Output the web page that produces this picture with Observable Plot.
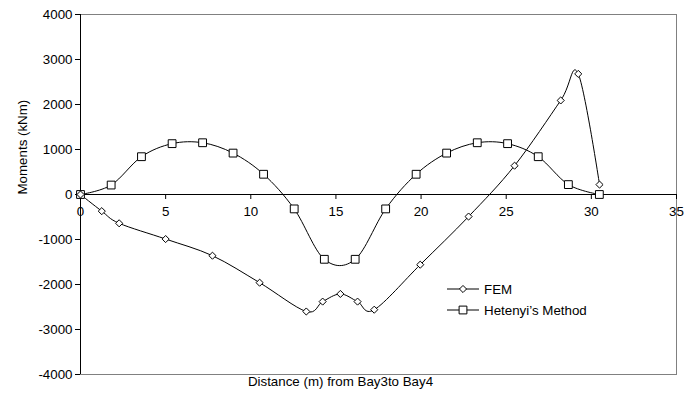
<!DOCTYPE html>
<html>
<head>
<meta charset="utf-8">
<script src="https://cdn.jsdelivr.net/npm/d3@7"></script>
<script src="https://cdn.jsdelivr.net/npm/@observablehq/plot@0.6"></script>
<style>
  html, body { margin: 0; padding: 0; background: #fff; }
  #chart { width: 692px; height: 394px; }
</style>
</head>
<body>
<div id="chart"></div>
<script>
// Bending moment along the beam, Bay 3 to Bay 4
const femDistance = [0, 1.25, 2.27, 5.0, 7.75, 10.52, 13.26, 14.22, 15.26, 16.27, 17.25, 19.95, 22.79, 25.49, 28.2, 29.23, 30.48];
const femMoment   = [0, -370, -640, -990, -1360, -1960, -2600, -2380, -2210, -2380, -2560, -1560, -490, 640, 2090, 2680, 220];

const hetDistance = [0, 1.8, 3.58, 5.38, 7.17, 8.96, 10.75, 12.55, 14.32, 16.13, 17.92, 19.71, 21.5, 23.3, 25.08, 26.88, 28.65, 30.47];
const hetMoment   = [0, 210, 840, 1130, 1150, 920, 450, -320, -1440, -1440, -320, 450, 920, 1150, 1130, 840, 220, 0];

const xTicks = [0, 5, 10, 15, 20, 25, 30, 35];
const yTicks = [-4000, -3000, -2000, -1000, 0, 1000, 2000, 3000, 4000];

const seriesNames = ["FEM", "Hetenyi\u2019s Method"];

const fem = femDistance.map((d, i) => ({x: d, y: femMoment[i]}));
const het = hetDistance.map((d, i) => ({x: d, y: hetMoment[i]}));

const font = "'Liberation Sans', Arial, sans-serif";
const fontSize = 13.33;

const chart = Plot.plot({
  width: 692,
  height: 394,
  marginLeft: 80,
  marginRight: 16,
  marginTop: 14,
  marginBottom: 20,
  style: {fontFamily: font, fontSize: fontSize + "px", background: "#fff", color: "#000", overflow: "visible"},
  x: {domain: [0, 35], axis: null},
  y: {domain: [-4000, 4000], axis: null},
  marks: [
    Plot.frame({stroke: "#808080"}),
    // value axis on the left
    Plot.axisY({ticks: yTicks, tickSize: 5, tickPadding: 3, tickFormat: d => String(d), label: null, fontSize: fontSize}),
    Plot.ruleX([0], {stroke: "#000"}),
    // distance axis drawn along the zero line
    Plot.ruleY([0], {stroke: "#000"}),
    Plot.ruleX(xTicks, {x: d => d, y1: 0, y2: 0, insetBottom: -5, stroke: "#000"}),
    Plot.text(xTicks, {x: d => d, y: 0, dy: 17, text: d => String(d), fill: "#000", fontSize: fontSize}),
    // axis titles
    Plot.text(["Moments (kNm)"], {frameAnchor: "left", dx: -58, rotate: -90, fill: "#000", fontSize: fontSize}),
    Plot.text(["Distance (m) from Bay3to Bay4"], {frameAnchor: "bottom", dy: 11, dx: -38, fill: "#000", fontSize: fontSize}),
    // series
    Plot.line(het, {x: "x", y: "y", curve: "cardinal", stroke: "#000", strokeWidth: 1}),
    Plot.line(fem, {x: "x", y: "y", curve: "cardinal", stroke: "#000", strokeWidth: 1}),
    Plot.dot(het, {x: "x", y: "y", symbol: "square", r: 4.4, fill: "#fff", stroke: "#000", strokeWidth: 1}),
    Plot.dot(fem, {x: "x", y: "y", symbol: "diamond2", r: 3.2, fill: "#fff", stroke: "#000", strokeWidth: 1})
  ]
});

document.getElementById("chart").appendChild(chart);

// legend
const svg = d3.select(chart);
const legend = svg.append("g")
  .attr("font-family", font)
  .attr("font-size", fontSize)
  .attr("text-anchor", "start");
const symbols = [
  d3.symbol(d3.symbolDiamond2, Math.PI * 3.2 * 3.2),
  d3.symbol(d3.symbolSquare, Math.PI * 4.4 * 4.4)
];
seriesNames.forEach((name, i) => {
  const row = legend.append("g").attr("transform", `translate(447,${289 + i * 21})`);
  row.append("line").attr("x1", 0).attr("x2", 32).attr("y1", 0).attr("y2", 0).attr("stroke", "#000");
  row.append("path").attr("d", symbols[i]()).attr("transform", "translate(16,0)")
    .attr("fill", "#fff").attr("stroke", "#000");
  row.append("text").attr("x", 37).attr("y", 0).attr("dy", "0.35em")
    .attr("text-anchor", "start").attr("fill", "#000").text(name);
});
</script>
</body>
</html>
